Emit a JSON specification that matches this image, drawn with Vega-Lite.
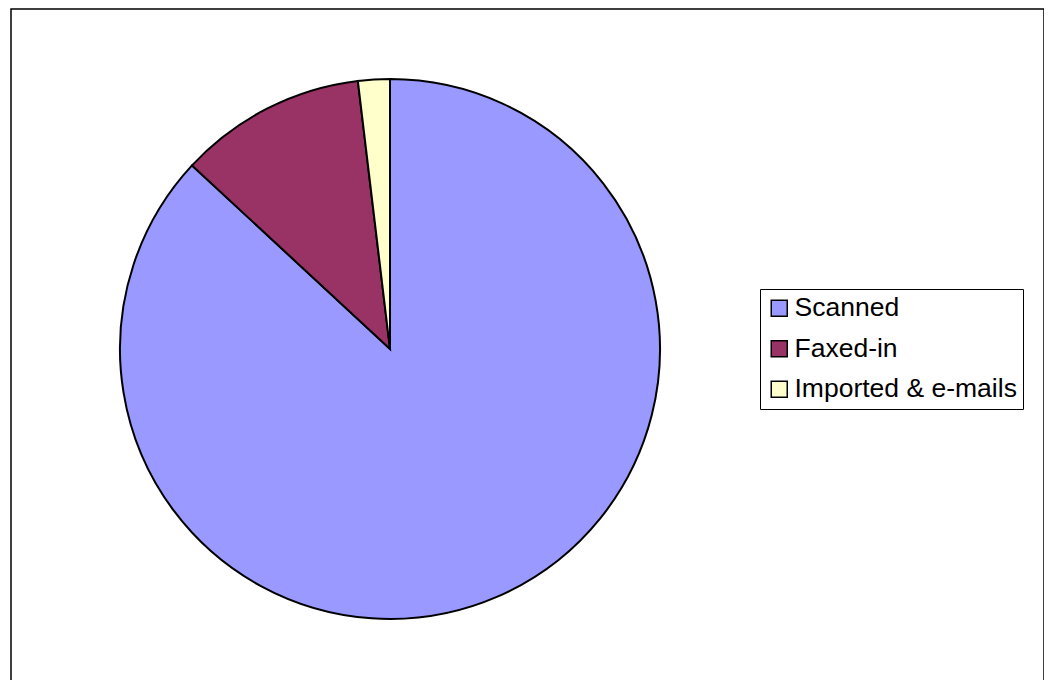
{
  "$schema": "https://vega.github.io/schema/vega-lite/v6.json",
  "autosize": {"type": "none"},
  "padding": {"left": 11, "top": 9, "right": 0, "bottom": 0},
  "width": 1033,
  "height": 690,
  "background": "white",
  "config": {
    "view": {"stroke": null},
    "font": "Liberation Sans"
  },
  "layer": [
    {
      "data": {"values": [{"frame": 1}]},
      "mark": {"type": "rect", "fill": "white", "stroke": "black", "strokeWidth": 1.5},
      "encoding": {}
    },
    {
      "data": {
        "values": [
          {"source": "Scanned", "share": 86.9, "rank": 1},
          {"source": "Faxed-in", "share": 11.2, "rank": 2},
          {"source": "Imported & e-mails", "share": 1.9, "rank": 3}
        ]
      },
      "mark": {
        "type": "arc",
        "outerRadius": 270,
        "stroke": "black",
        "strokeWidth": 2,
        "x": {"expr": "379"},
        "y": {"expr": "340"}
      },
      "encoding": {
        "theta": {"field": "share", "type": "quantitative", "stack": true},
        "order": {"field": "rank", "type": "quantitative"},
        "color": {
          "field": "source",
          "type": "nominal",
          "scale": {
            "domain": ["Scanned", "Faxed-in", "Imported & e-mails"],
            "range": ["#9999FF", "#993366", "#FFFFCC"]
          },
          "legend": {
            "title": null,
            "orient": "none",
            "legendX": 749,
            "legendY": 280,
            "strokeColor": "black",
            "fillColor": "white",
            "padding": 6,
            "symbolType": "square",
            "symbolSize": 256,
            "symbolStrokeColor": "black",
            "symbolStrokeWidth": 1.5,
            "labelFontSize": 26.5,
            "labelColor": "black",
            "labelFont": "Liberation Sans",
            "labelOffset": 2,
            "rowPadding": 13.5,
            "labelLimit": 400
          }
        }
      }
    }
  ]
}
